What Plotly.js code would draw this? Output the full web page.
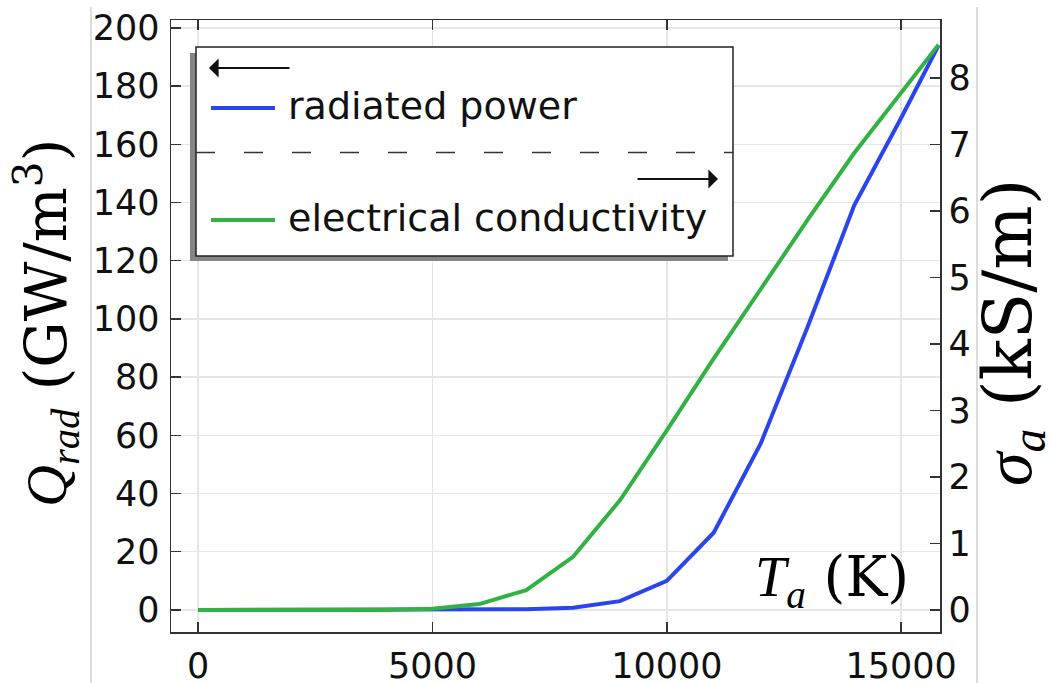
<!DOCTYPE html>
<html>
<head>
<meta charset="utf-8">
<script src="https://cdn.plot.ly/plotly-3.0.1.min.js"></script>
<style>html,body{margin:0;padding:0;background:#fff;}#chart{width:1050px;height:683px;}</style>
</head>
<body>
<div id="chart"></div>
<script>
// Data
const temperature = [0, 1000, 2000, 3000, 4000, 5000, 6000, 7000, 8000, 9000, 10000, 11000, 12000, 13000, 14000, 15000, 15800];
const radiatedPower = [0, 0, 0, 0, 0, 0, 0, 0.2, 0.7, 3, 10, 26.5, 57, 97, 139, 169, 194];           // GW/m^3 (left axis)
const conductivity = [0, 0, 0, 0, 0, 0.02, 0.09, 0.3, 0.8, 1.65, 2.7, 3.78, 4.83, 5.86, 6.87, 7.78, 8.5]; // kS/m (right axis)
const xTicks = [0, 5000, 10000, 15000];
const seriesNames = ["radiated power", "electrical conductivity"];

// Layout helpers (pixel -> paper)
const W = 1050, H = 683, L = 171, R = 940, T = 20, B = 632;
const px = v => (v - L) / (R - L);
const py = v => (B - v) / (B - T);

const blue = '#2a44ee', green = '#31b243';
const tickFont = {family: 'DejaVu Sans, sans-serif', size: 35, color: '#111'};
const upright = 'DejaVu Serif, serif';
const ital = s => '<span style="font-family:\'Liberation Serif\', serif;font-style:italic">' + s + '</span>';

const traces = [
  {x: temperature, y: radiatedPower, type: 'scatter', mode: 'lines', name: seriesNames[0],
   line: {color: blue, width: 4}, yaxis: 'y', showlegend: false},
  {x: temperature, y: conductivity, type: 'scatter', mode: 'lines', name: seriesNames[1],
   line: {color: green, width: 4}, yaxis: 'y2', showlegend: false}
];

const shapes = [
  // crop edge lines
  {type: 'line', xref: 'paper', yref: 'paper', x0: px(91), x1: px(91), y0: py(7), y1: py(683), line: {color: '#bbbbbb', width: 1}},
  {type: 'line', xref: 'paper', yref: 'paper', x0: px(977), x1: px(977), y0: py(7), y1: py(683), line: {color: '#bbbbbb', width: 1}},
  // legend shadow
  {type: 'rect', xref: 'paper', yref: 'paper', x0: px(190), x1: px(728), y0: py(53), y1: py(261), fillcolor: '#858585', line: {width: 0}},
  // legend box
  {type: 'rect', xref: 'paper', yref: 'paper', x0: px(196), x1: px(733), y0: py(47), y1: py(256), fillcolor: '#ffffff', line: {color: '#222', width: 1.5}},
  // separator
  {type: 'line', xref: 'paper', yref: 'paper', x0: px(196), x1: px(733), y0: py(152.5), y1: py(152.5), line: {color: '#333', width: 1.5, dash: '19px,29px'}},
  // legend samples
  {type: 'line', xref: 'paper', yref: 'paper', x0: px(211), x1: px(275), y0: py(108), y1: py(108), line: {color: blue, width: 4}},
  {type: 'line', xref: 'paper', yref: 'paper', x0: px(211), x1: px(275), y0: py(220), y1: py(220), line: {color: green, width: 4}}
];

const annotations = [
  // arrows in legend
  {xref: 'paper', yref: 'paper', x: px(209), y: py(68), ax: 82, ay: 0, showarrow: true, arrowhead: 1, arrowsize: 1.6, arrowwidth: 2, arrowcolor: '#111', text: ''},
  {xref: 'paper', yref: 'paper', x: px(718), y: py(179), ax: -82, ay: 0, showarrow: true, arrowhead: 1, arrowsize: 1.6, arrowwidth: 2, arrowcolor: '#111', text: ''},
  // legend texts
  {xref: 'paper', yref: 'paper', x: px(286), y: py(106), xanchor: 'left', yanchor: 'middle', showarrow: false, text: seriesNames[0], font: {family: 'DejaVu Sans, sans-serif', size: 38, color: '#111'}},
  {xref: 'paper', yref: 'paper', x: px(286), y: py(218), xanchor: 'left', yanchor: 'middle', showarrow: false, text: seriesNames[1], font: {family: 'DejaVu Sans, sans-serif', size: 38, color: '#111'}},
  // axis titles
  {xref: 'paper', yref: 'paper', x: px(46), y: py(323), xanchor: 'center', yanchor: 'middle', textangle: -90, showarrow: false,
   text: ital('Q') + '<sub>' + ital('rad') + '</sub> (GW/m<sup>3</sup>)', font: {family: upright, size: 58, color: '#000'}},
  {xref: 'paper', yref: 'paper', x: px(1011), y: py(333), xanchor: 'center', yanchor: 'middle', textangle: -90, showarrow: false,
   text: ital('σ') + '<sub>' + ital('a') + '</sub> (kS/m)', font: {family: upright, size: 68, color: '#000'}},
  {xref: 'paper', yref: 'paper', x: px(832), y: py(580), xanchor: 'center', yanchor: 'middle', showarrow: false,
   text: ital('T') + '<sub>' + ital('a') + '</sub> (K)', font: {family: upright, size: 56, color: '#000'}}
];

const layout = {
  width: W, height: H,
  margin: {l: L, r: W - R, t: T, b: H - B, pad: 0},
  paper_bgcolor: '#fff', plot_bgcolor: '#fff',
  showlegend: false,
  xaxis: {range: [-580, 15830], tickvals: xTicks, ticktext: xTicks.map(String),
          ticks: 'inside', ticklen: 10, tickwidth: 1.5, tickcolor: '#333',
          showline: true, linecolor: '#333', linewidth: 1.5, mirror: 'ticks',
          showgrid: true, gridcolor: '#e6e6e6', gridwidth: 1.5, zeroline: false,
          tickfont: tickFont, ticklabelstandoff: 2},
  yaxis: {range: [-7.6, 202.7], dtick: 20, tick0: 0,
          ticks: 'inside', ticklen: 10, tickwidth: 1.5, tickcolor: '#333',
          showline: true, linecolor: '#333', linewidth: 1.5,
          showgrid: true, gridcolor: '#e6e6e6', gridwidth: 1.5, zeroline: false,
          tickfont: tickFont, ticklabelstandoff: 3},
  yaxis2: {range: [-0.33, 8.87], dtick: 1, tick0: 0, overlaying: 'y', side: 'right',
          ticks: 'inside', ticklen: 10, tickwidth: 1.5, tickcolor: '#333',
          showline: true, linecolor: '#333', linewidth: 1.5,
          showgrid: false, zeroline: false,
          tickfont: tickFont, ticklabelstandoff: 0},
  shapes: shapes,
  annotations: annotations
};

Plotly.newPlot('chart', traces, layout, {staticPlot: true, displayModeBar: false});
</script>
</body>
</html>
